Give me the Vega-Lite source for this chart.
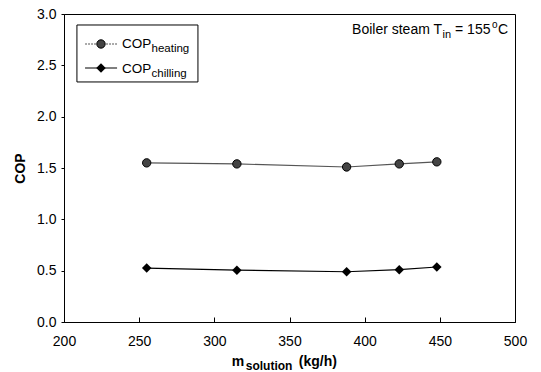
{
  "$schema": "https://vega.github.io/schema/vega-lite/v6.json",
  "width": 451,
  "height": 308,
  "autosize": {"type": "none"},
  "padding": {"left": 64, "top": 14, "right": 26, "bottom": 50},
  "background": "white",
  "data": {"values": [{}]},
  "config": {
    "font": "Liberation Sans",
    "view": {"stroke": "black", "strokeWidth": 1},
    "text": {"fill": "black"},
    "axis": {"grid": false, "domainColor": "black", "tickColor": "black", "labelColor": "black", "labelFont": "Liberation Sans", "labelFontSize": 14, "titleColor": "black", "labelFlush": false}
  },
  "datasets": {
    "cop": [
      {"m": 255, "cop": 1.55, "series": "heating"},
      {"m": 315, "cop": 1.54, "series": "heating"},
      {"m": 388, "cop": 1.51, "series": "heating"},
      {"m": 423, "cop": 1.54, "series": "heating"},
      {"m": 448, "cop": 1.56, "series": "heating"},
      {"m": 255, "cop": 0.525, "series": "chilling"},
      {"m": 315, "cop": 0.505, "series": "chilling"},
      {"m": 388, "cop": 0.49, "series": "chilling"},
      {"m": 423, "cop": 0.51, "series": "chilling"},
      {"m": 448, "cop": 0.535, "series": "chilling"}
    ]
  },
  "layer": [
    {
      "data": {"name": "cop"},
      "mark": {"type": "line", "strokeWidth": 1.1},
      "encoding": {
        "x": {"field": "m", "type": "quantitative", "scale": {"domain": [200, 500], "nice": false},
              "axis": {"title": null, "values": [200, 250, 300, 350, 400, 450, 500], "tickSize": -5, "labelPadding": 17, "format": "d", "labelFlush": false}},
        "y": {"field": "cop", "type": "quantitative", "scale": {"domain": [0, 3], "nice": false},
              "axis": {"title": "COP", "titleFontSize": 14, "titleFontWeight": "bold", "titleFont": "Liberation Sans", "titlePadding": 9, "values": [0, 0.5, 1, 1.5, 2, 2.5, 3], "format": ".1f", "tickSize": 3, "labelPadding": 5, "labelFlush": false}},
        "color": {"field": "series", "type": "nominal", "scale": {"domain": ["heating", "chilling"], "range": ["#555555", "#000000"]}, "legend": null}
      }
    },
    {
      "data": {"name": "cop"},
      "transform": [{"filter": "datum.series === 'heating'"}],
      "mark": {"type": "point", "shape": "circle", "size": 70, "filled": true, "fill": "#444444", "stroke": "#000000", "strokeWidth": 1, "opacity": 1},
      "encoding": {
        "x": {"field": "m", "type": "quantitative"},
        "y": {"field": "cop", "type": "quantitative"}
      }
    },
    {
      "data": {"name": "cop"},
      "transform": [{"filter": "datum.series === 'chilling'"}],
      "mark": {"type": "point", "shape": "diamond", "size": 90, "filled": true, "color": "#000000", "opacity": 1},
      "encoding": {
        "x": {"field": "m", "type": "quantitative"},
        "y": {"field": "cop", "type": "quantitative"}
      }
    },
    {
      "mark": {"type": "rect", "fill": "white", "stroke": "black", "strokeWidth": 1},
      "encoding": {
        "x": {"datum": 208.6, "type": "quantitative"},
        "x2": {"datum": 289.1},
        "y": {"datum": 2.893, "type": "quantitative"},
        "y2": {"datum": 2.338}
      }
    },
    {
      "mark": {"type": "rule", "color": "#555555", "strokeWidth": 1.1, "strokeDash": [2, 1]},
      "encoding": {
        "x": {"datum": 214, "type": "quantitative"},
        "x2": {"datum": 235.3},
        "y": {"datum": 2.708, "type": "quantitative"}
      }
    },
    {
      "mark": {"type": "rule", "color": "#000000", "strokeWidth": 1.1},
      "encoding": {
        "x": {"datum": 214, "type": "quantitative"},
        "x2": {"datum": 235.3},
        "y": {"datum": 2.474, "type": "quantitative"}
      }
    },
    {
      "mark": {"type": "point", "shape": "circle", "size": 70, "filled": true, "fill": "#444444", "stroke": "#000000", "strokeWidth": 1, "opacity": 1},
      "encoding": {
        "x": {"datum": 224.6, "type": "quantitative"},
        "y": {"datum": 2.708, "type": "quantitative"}
      }
    },
    {
      "mark": {"type": "point", "shape": "diamond", "size": 90, "filled": true, "color": "#000000", "opacity": 1},
      "encoding": {
        "x": {"datum": 224.6, "type": "quantitative"},
        "y": {"datum": 2.474, "type": "quantitative"}
      }
    },
    {
      "mark": {"type": "text", "text": "COP", "align": "left", "baseline": "alphabetic", "fontSize": 13.5, "fill": "black"},
      "encoding": {"x": {"datum": 238.6, "type": "quantitative"}, "y": {"datum": 2.665, "type": "quantitative"}}
    },
    {
      "mark": {"type": "text", "text": "heating", "align": "left", "baseline": "alphabetic", "fontSize": 11.5, "dx": 29.5, "dy": 4, "fill": "black"},
      "encoding": {"x": {"datum": 238.6, "type": "quantitative"}, "y": {"datum": 2.665, "type": "quantitative"}}
    },
    {
      "mark": {"type": "text", "text": "COP", "align": "left", "baseline": "alphabetic", "fontSize": 13.5, "fill": "black"},
      "encoding": {"x": {"datum": 238.6, "type": "quantitative"}, "y": {"datum": 2.43, "type": "quantitative"}}
    },
    {
      "mark": {"type": "text", "text": "chilling", "align": "left", "baseline": "alphabetic", "fontSize": 11.5, "dx": 29.5, "dy": 4, "fill": "black"},
      "encoding": {"x": {"datum": 238.6, "type": "quantitative"}, "y": {"datum": 2.43, "type": "quantitative"}}
    },
    {
      "mark": {"type": "text", "text": "Boiler steam T", "align": "left", "baseline": "alphabetic", "fontSize": 14, "fill": "black"},
      "encoding": {"x": {"datum": 391.6, "type": "quantitative"}, "y": {"datum": 2.805, "type": "quantitative"}}
    },
    {
      "mark": {"type": "text", "text": "in", "align": "left", "baseline": "alphabetic", "fontSize": 11, "dx": 90.5, "dy": 4, "fill": "black"},
      "encoding": {"x": {"datum": 391.6, "type": "quantitative"}, "y": {"datum": 2.805, "type": "quantitative"}}
    },
    {
      "mark": {"type": "text", "text": "= 155", "align": "left", "baseline": "alphabetic", "fontSize": 14, "dx": 103, "fill": "black"},
      "encoding": {"x": {"datum": 391.6, "type": "quantitative"}, "y": {"datum": 2.805, "type": "quantitative"}}
    },
    {
      "mark": {"type": "text", "text": "o", "align": "left", "baseline": "alphabetic", "fontSize": 10, "dx": 140, "dy": -6, "fill": "black"},
      "encoding": {"x": {"datum": 391.6, "type": "quantitative"}, "y": {"datum": 2.805, "type": "quantitative"}}
    },
    {
      "mark": {"type": "text", "text": "C", "align": "left", "baseline": "alphabetic", "fontSize": 14, "dx": 146, "fill": "black"},
      "encoding": {"x": {"datum": 391.6, "type": "quantitative"}, "y": {"datum": 2.805, "type": "quantitative"}}
    },
    {
      "mark": {"type": "text", "text": "m", "align": "left", "baseline": "alphabetic", "fontSize": 14, "fontWeight": "bold", "fill": "black"},
      "encoding": {"x": {"datum": 311.6, "type": "quantitative"}, "y": {"datum": -0.43, "type": "quantitative"}}
    },
    {
      "mark": {"type": "text", "text": "solution", "align": "left", "baseline": "alphabetic", "fontSize": 12, "fontWeight": "bold", "dx": 14, "dy": 4, "fill": "black"},
      "encoding": {"x": {"datum": 311.6, "type": "quantitative"}, "y": {"datum": -0.43, "type": "quantitative"}}
    },
    {
      "mark": {"type": "text", "text": "(kg/h)", "align": "left", "baseline": "alphabetic", "fontSize": 14, "fontWeight": "bold", "dx": 67, "fill": "black"},
      "encoding": {"x": {"datum": 311.6, "type": "quantitative"}, "y": {"datum": -0.43, "type": "quantitative"}}
    }
  ]
}
